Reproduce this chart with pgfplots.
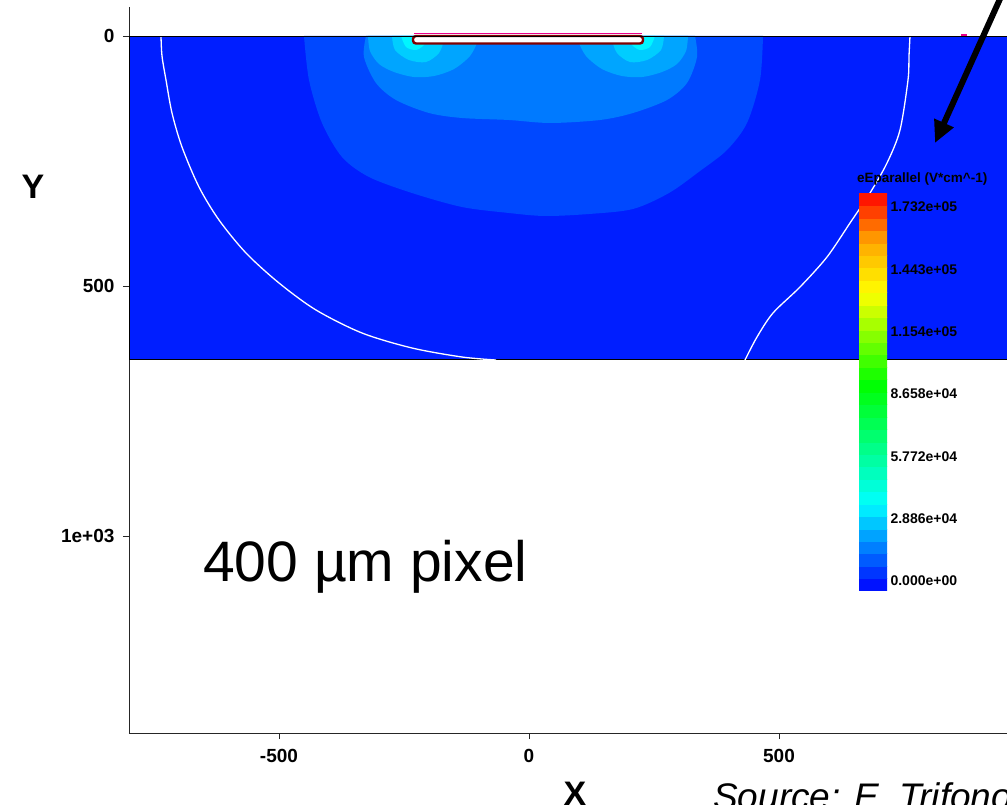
\documentclass[border=0pt]{standalone}
\usepackage{pgfplots}
\pgfplotsset{compat=1.18}
\usepackage{fontspec}
\setmainfont{Liberation Sans}
\usetikzlibrary{arrows.meta}
\definecolor{cA}{RGB}{0,30,255}
\definecolor{cB}{RGB}{0,72,255}
\definecolor{cC}{RGB}{0,122,255}
\definecolor{cD}{RGB}{0,165,255}
\definecolor{cE}{RGB}{0,205,255}
\definecolor{cF}{RGB}{0,245,255}
\definecolor{elec}{RGB}{130,0,0}
\begin{document}
\begin{tikzpicture}
\begin{axis}[
  scale only axis, width=878pt, height=726pt,
  xmin=-800, xmax=956, ymin=-58, ymax=1394, y dir=reverse,
  axis x line*=bottom, axis y line*=left,
  axis line style={black!85, line width=0.8pt},
  xtick={-500,0,500}, xticklabels={-500,0,500},
  ytick={0,500,1000}, yticklabels={0,500,1e+03},
  tick align=outside, major tick length=6pt,
  tick style={black!85, line width=0.8pt},
  tick label style={font=\fontsize{19}{19}\selectfont\bfseries},
  xticklabel style={yshift=-7pt},
  yticklabel style={xshift=-5pt},
  colormap={pv}{rgb255(0)=(0,0,255) rgb255(22)=(0,255,255) rgb255(52)=(0,255,0) rgb255(75)=(255,255,0) rgb255(88)=(255,165,0) rgb255(100)=(255,0,0)},
  point meta min=-4630, point meta max=179680,
  colorbar sampled,
  colorbar shift/.style={xshift=730pt, yshift=-186pt},
  colorbar style={
    at={(parent axis.north west)}, anchor=north west,
    scale only axis, width=28pt, height=398pt,
    samples=33,
    ytick={0,28860,57720,86580,115440,144300,173200},
    yticklabels={0.000e+00,2.886e+04,5.772e+04,8.658e+04,1.154e+05,1.443e+05,1.732e+05},
    yticklabel style={font=\fontsize{14}{14}\selectfont\bfseries, xshift=0pt},
    axis line style={draw=none}, major tick length=0pt, tick style={draw=none},
    scaled y ticks=false,
  },
]
\coordinate (TL) at (axis cs:-1058,-72);
% silicon region
\addplot[fill=cA, draw=black, line width=0.8pt, forget plot] coordinates {(-800,0) (1000,0) (1000,646) (-800,646)} -- cycle;
% field levels
\addplot[fill=cB, draw=none, smooth, forget plot] coordinates {(-450,0) (-440,88) (-414,174) (-374,242) (-320,282) (-234,314) (-134,342) (-40,354) (32,360) (120,356) (208,346) (280,314) (342,270) (396,228) (436,174) (462,88) (468,0)} -- cycle;
\addplot[fill=cC, draw=none, smooth, forget plot] coordinates {(-326,0) (-330,42) (-306,94) (-266,128) (-200,154) (-134,164) (-40,168) (42,174) (142,168) (208,154) (276,128) (316,94) (336,42) (332,0)} -- cycle;
\addplot[fill=cD, draw=none, smooth, forget plot] coordinates {(-322,0) (-318,30) (-300,56) (-270,72) (-230,82) (-190,80) (-150,66) (-118,40) (-102,10) (-100,0)} -- cycle;
\addplot[fill=cD, draw=none, smooth, forget plot] coordinates {(96,0) (98,10) (114,40) (146,66) (186,80) (226,82) (266,72) (296,56) (314,30) (318,0)} -- cycle;
\addplot[fill=cE, draw=none, smooth, forget plot] coordinates {(-274,0) (-268,28) (-240,48) (-206,52) (-180,34) (-170,8) (-170,0)} -- cycle;
\addplot[fill=cE, draw=none, smooth, forget plot] coordinates {(166,0) (166,8) (176,34) (202,52) (236,48) (264,28) (270,0)} -- cycle;
\addplot[fill=cF, draw=none, smooth, forget plot] coordinates {(-256,0) (-246,22) (-226,28) (-210,18) (-204,4) (-204,0)} -- cycle;
\addplot[fill=cF, draw=none, smooth, forget plot] coordinates {(200,0) (200,4) (206,18) (222,28) (242,22) (252,0)} -- cycle;
% white contour lines
\addplot[white, line width=1.3pt, smooth, forget plot] coordinates {(-736,0) (-734,40) (-726,88) (-714,154) (-694,222) (-660,302) (-620,368) (-566,434) (-500,494) (-426,548) (-334,594) (-234,624) (-134,642) (-66,648)};
\addplot[white, line width=1.3pt, smooth, forget plot] coordinates {(762,0) (760,40) (758,88) (742,188) (716,254) (682,314) (642,374) (596,442) (542,502) (488,554) (456,602) (432,648)};
\addplot[white, line width=1.2pt, forget plot] coordinates {(-316,1) (-308,1)};
\addplot[white, line width=1.2pt, forget plot] coordinates {(310,1) (318,1)};
% top boundary line
\addplot[black, line width=0.8pt, forget plot] coordinates {(-800,0) (1000,0)};
% electrode
\addplot[fill=white, draw=elec, line width=2.4pt, rounded corners=3pt, forget plot] coordinates {(-232,0) (228,0) (228,15) (-232,15)} -- cycle;
\addplot[black, line width=0.8pt, forget plot] coordinates {(-232,0) (228,0)};
\addplot[magenta, line width=1.2pt, forget plot] coordinates {(-230,-5) (226,-5)};
\addplot[magenta, line width=1.5pt, forget plot] coordinates {(864,-2) (876,-2)};
\end{axis}
\node[font=\fontsize{34}{34}\selectfont\bfseries] at ([shift={(33pt,-187pt)}]TL) {Y};
\node[anchor=base, inner sep=0pt, font=\fontsize{34}{34}\selectfont\bfseries] at ([shift={(575pt,-806pt)}]TL) {X};
\node[anchor=base west, inner sep=0pt, font=\fontsize{37}{37}\selectfont\itshape] at ([shift={(713pt,-810pt)}]TL) {Source: E. Trifonov};
\node[anchor=base west, inner sep=0pt, font=\fontsize{57}{57}\selectfont] at ([shift={(203pt,-582pt)}]TL) {400 µm pixel};
\node[anchor=base west, inner sep=0pt, font=\fontsize{13.5}{14}\selectfont\bfseries] at ([shift={(857pt,-183pt)}]TL) {eEparallel (V*cm\textasciicircum-1)};
\draw[line width=6pt, -{Triangle[length=22pt,width=20pt]}] ([shift={(1004pt,10pt)}]TL) -- ([shift={(935pt,-143pt)}]TL);
\pgfresetboundingbox
\path[use as bounding box] (TL) rectangle ([shift={(1007pt,-805pt)}]TL);
\end{tikzpicture}
\end{document}
